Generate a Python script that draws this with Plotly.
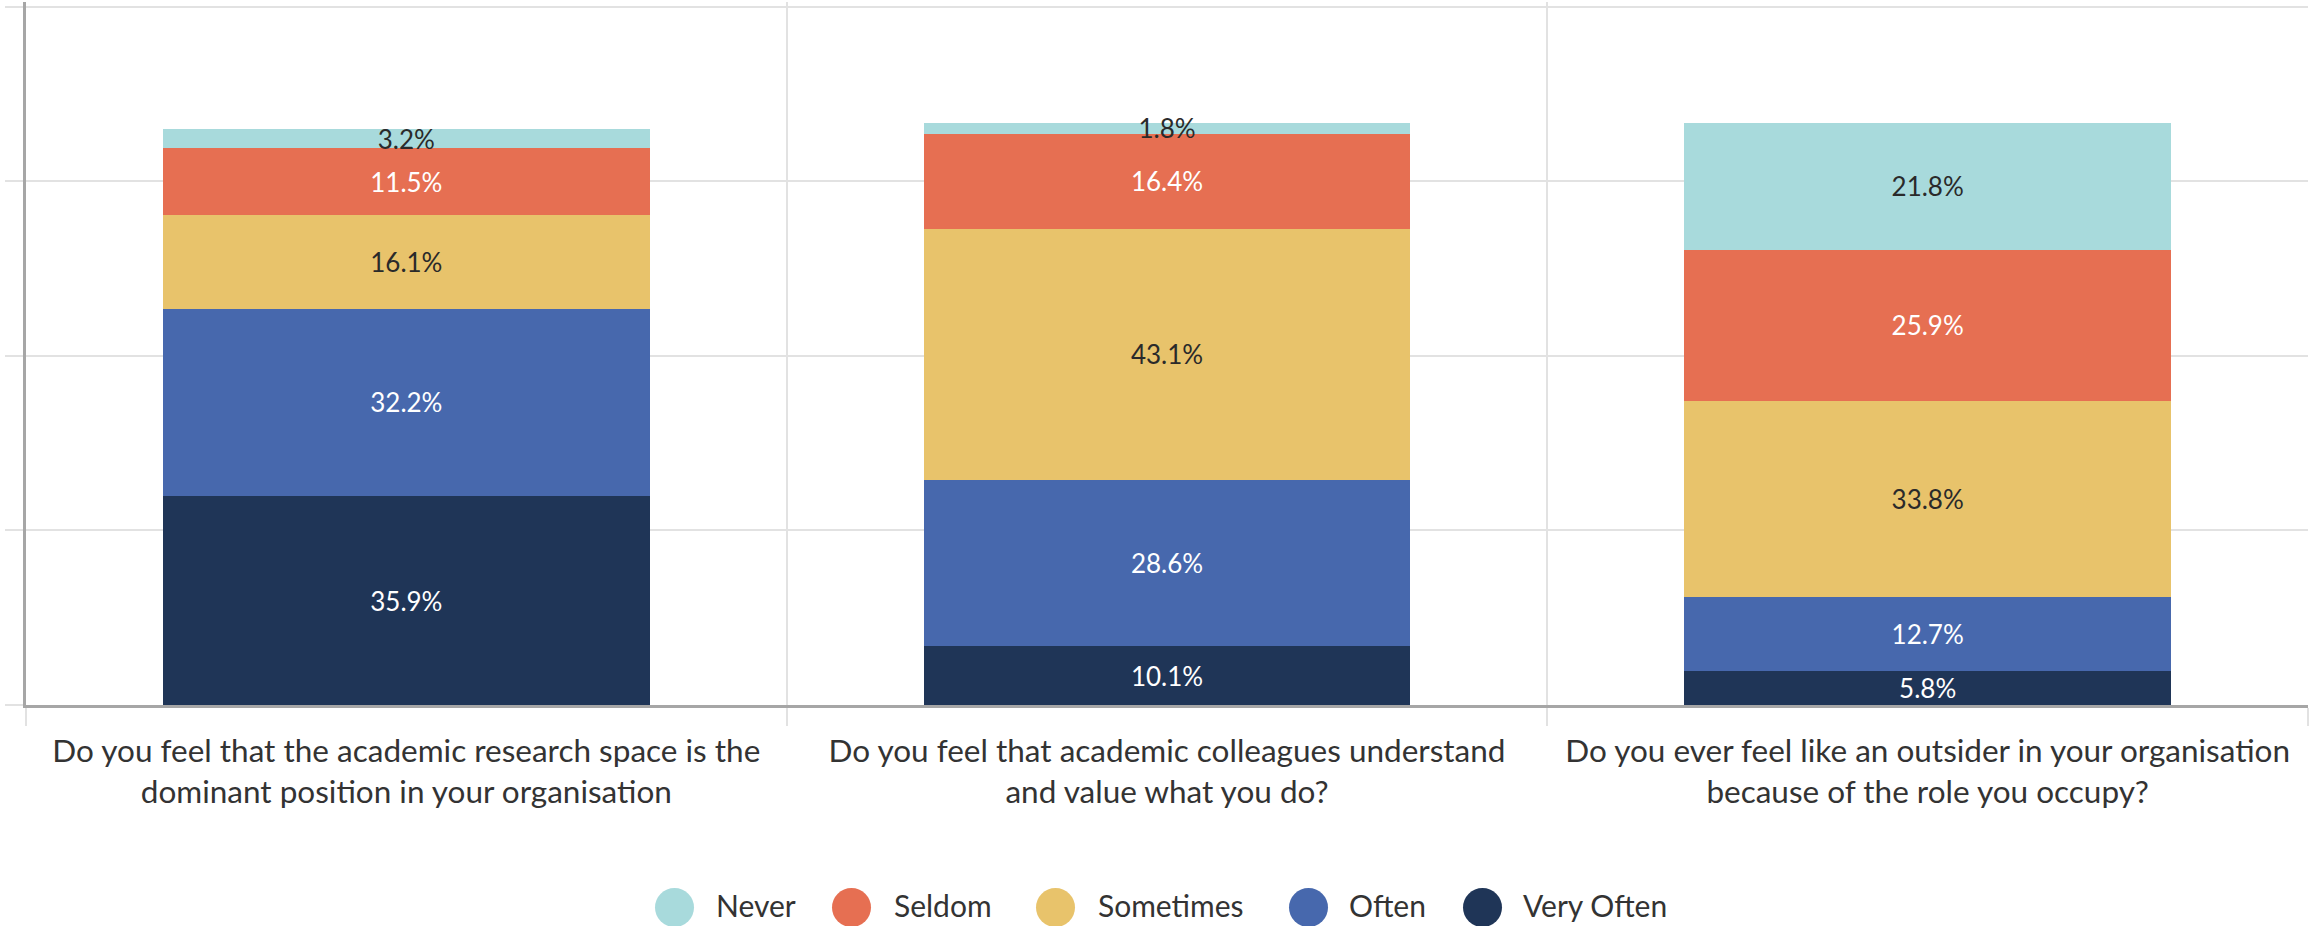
import plotly.graph_objects as go

# Survey questions (x categories)
questions = [
    "Do you feel that the academic research space is the<br>dominant position in your organisation",
    "Do you feel that academic colleagues understand<br>and value what you do?",
    "Do you ever feel like an outsider in your organisation<br>because of the role you occupy?",
]

# Response shares (%) per question, stacked bottom to top
very_often = [35.9, 10.1, 5.8]
often = [32.2, 28.6, 12.7]
sometimes = [16.1, 43.1, 33.8]
seldom = [11.5, 16.4, 25.9]
never = [3.2, 1.8, 21.8]

series_names = ["Never", "Seldom", "Sometimes", "Often", "Very Often"]
series_values = [never, seldom, sometimes, often, very_often]
series_colors = ["#a8dadc", "#e66f52", "#e8c36b", "#4768ad", "#1f3557"]
label_colors = ["#2a2a2a", "#ffffff", "#2a2a2a", "#ffffff", "#ffffff"]

W, H = 2320, 926
ML, MR, MT, MB = 26, 12, 2, 221
PW = W - ML - MR
PH = H - MT - MB
FONT = "Lato, 'Source Sans Pro', sans-serif"

fig = go.Figure()

# Stack from bottom (Very Often) to top (Never)
for name, vals, col, tcol in reversed(list(zip(series_names, series_values, series_colors, label_colors))):
    fig.add_trace(go.Bar(
        x=questions,
        y=vals,
        name=name,
        marker=dict(color=col, line=dict(width=0)),
        text=[f"{v:.1f}%" for v in vals],
        textposition="inside",
        insidetextanchor="middle",
        constraintext="none",
        textangle=0,
        textfont=dict(family=FONT, size=26, color=tcol),
        showlegend=False,
    ))

# Custom legend: large round swatches with labels underneath the plot
def px_to_paper_x(px):
    return (px - ML) / PW

def py_to_paper_y(py):
    return (H - MB - py) / PH

legend_circle_cx = [674.5, 851.5, 1055.5, 1308.5, 1482.5]
legend_text_x = [715, 893, 1097, 1348, 1522]
legend_cy = 907.5
legend_text_cy = 905
radius = 19.5

shapes = []
annotations = []
for name, col, cx, tx in zip(series_names, series_colors, legend_circle_cx, legend_text_x):
    shapes.append(dict(
        type="circle", xref="paper", yref="paper",
        xsizemode="pixel", ysizemode="pixel",
        xanchor=px_to_paper_x(cx), yanchor=py_to_paper_y(legend_cy),
        x0=-radius, x1=radius, y0=-radius, y1=radius,
        fillcolor=col, line=dict(width=0), layer="above",
    ))
    annotations.append(dict(
        x=px_to_paper_x(tx), y=py_to_paper_y(legend_text_cy),
        xref="paper", yref="paper", xanchor="left", yanchor="middle",
        text=name, showarrow=False, borderpad=0,
        font=dict(family=FONT, size=30, color="#333333"),
    ))

fig.update_layout(
    width=W, height=H,
    margin=dict(l=ML, r=MR, t=MT, b=MB),
    barmode="stack",
    bargap=0.36,
    plot_bgcolor="white",
    paper_bgcolor="white",
    font=dict(family=FONT, color="#333333"),
    shapes=shapes,
    annotations=annotations,
    xaxis=dict(
        type="category",
        range=[-0.5, 2.5],
        tickson="boundaries",
        showgrid=True, gridcolor="#e2e2e2", gridwidth=2,
        ticks="outside", ticklen=18, tickcolor="#e2e2e2", tickwidth=2,
        ticklabelstandoff=16,
        showline=True, linecolor="#a6a6a6", linewidth=3,
        tickfont=dict(family=FONT, size=31.5, color="#333333"),
        fixedrange=True,
    ),
    yaxis=dict(
        range=[0, 120.8],
        dtick=30,
        showgrid=True, gridcolor="#e2e2e2", gridwidth=2,
        ticks="outside", ticklen=18, tickcolor="#e2e2e2", tickwidth=2,
        showticklabels=False,
        showline=True, linecolor="#a6a6a6", linewidth=3,
        zeroline=False,
        fixedrange=True,
    ),
)

fig.write_html("out.html")
